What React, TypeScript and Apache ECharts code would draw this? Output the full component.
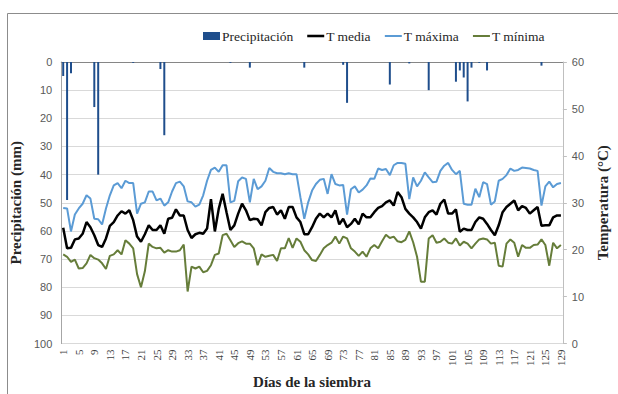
import React, { useEffect, useRef } from 'react';
import * as echarts from 'echarts';

const days: string[] = [];
for (let i = 1; i <= 129; i++) days.push(String(i));

const precipitation = [
  5, 49, 4, 0, 0, 0, 0, 0, 16, 40,
  0, 0, 0, 0, 0, 0, 0, 0, 0.3, 0,
  0, 0, 0, 0, 0, 2.5, 26, 0, 0, 0,
  0, 0, 0, 0, 0, 0, 0, 0, 0, 0,
  0, 0, 0, 0.3, 0, 0, 0, 0, 2, 0,
  0, 0, 0, 0, 0, 0, 0, 0, 0, 0,
  0, 0, 2, 0, 0, 0, 0, 0, 0, 0,
  0, 0, 1, 14.5, 0, 0, 0, 0, 0, 0,
  0, 0, 0, 0, 8, 0, 0, 0, 0, 0.5,
  0, 0, 0, 0, 10, 0, 0, 0, 0, 0,
  0, 7, 3, 5.5, 14, 2, 0, 0.3, 0, 3,
  0, 0, 0, 0, 0, 0, 0, 0, 0, 0,
  0, 0, 0, 1.3, 0, 0, 0, 0, 0,
];

const tMax = [
  28.9, 28.8, 23.9, 27.5, 28.8, 29.8, 31.6, 30.9, 26.6, 26.5,
  25.4, 28.8, 31.6, 33.7, 34.2, 33.1, 34.7, 34.2, 34.2, 27.7,
  29.8, 30.1, 32.4, 32.4, 30.5, 30.9, 29.4, 30.1, 32.4, 34.2,
  34.5, 33.5, 30.3, 30.1, 29.2, 29.6, 31.6, 34.7, 37.0, 37.5,
  36.6, 38.0, 38.0, 30.1, 30.4, 34.6, 35.4, 35.1, 30.1, 35.1,
  32.9, 33.5, 34.7, 37.4, 36.6, 36.3, 36.3, 36.1, 36.3, 36.1,
  36.1, 31.2, 26.6, 30.1, 32.6, 34.0, 34.9, 35.1, 31.9, 36.1,
  34.0, 33.7, 33.8, 27.5, 32.9, 33.5, 32.2, 32.8, 33.7, 35.2,
  35.1, 37.3, 37.0, 37.2, 35.9, 38.0, 38.5, 38.5, 38.3, 30.8,
  35.4, 33.5, 34.7, 36.5, 35.4, 34.4, 34.5, 36.8, 37.9, 38.5,
  37.0, 36.1, 36.8, 29.8, 29.6, 29.6, 33.0, 31.2, 34.4, 34.0,
  29.6, 30.3, 34.7, 35.1, 35.9, 37.3, 36.8, 37.0, 37.5, 37.4,
  37.3, 37.0, 36.8, 29.4, 33.5, 34.5, 33.3, 34.0, 34.2,
];

const tMedia = [
  24.7, 20.3, 20.4, 22.2, 22.4, 23.4, 25.9, 24.8, 23.1, 21.0,
  20.6, 22.4, 25.1, 25.9, 27.3, 28.2, 27.7, 28.4, 26.3, 22.8,
  21.7, 23.3, 25.2, 24.2, 24.2, 25.2, 23.4, 26.6, 26.8, 28.6,
  27.3, 27.3, 24.2, 22.5, 23.3, 23.6, 23.4, 24.5, 30.8, 23.9,
  28.7, 31.9, 28.0, 24.2, 25.2, 27.7, 29.8, 28.4, 26.3, 26.6,
  26.5, 25.2, 28.0, 28.9, 29.1, 27.5, 28.4, 26.6, 29.1, 29.1,
  26.9, 25.9, 23.3, 23.3, 24.8, 26.6, 27.7, 26.9, 27.7, 26.9,
  28.4, 25.4, 26.6, 24.8, 25.5, 26.6, 25.4, 27.7, 26.9, 26.9,
  28.0, 28.9, 29.3, 30.1, 30.5, 29.4, 32.3, 31.2, 28.7, 27.7,
  26.9, 25.9, 24.5, 26.9, 28.0, 28.4, 27.5, 29.8, 30.7, 27.7,
  27.7, 28.6, 23.8, 24.5, 24.2, 24.2, 25.9, 26.9, 26.6, 25.5,
  24.2, 23.1, 25.2, 28.0, 29.1, 29.8, 30.5, 28.4, 29.3, 28.9,
  27.7, 28.4, 29.1, 25.1, 25.2, 25.2, 26.9, 27.3, 27.3,
];

const tMin = [
  19.0, 18.5, 17.4, 17.9, 16.0, 16.1, 17.1, 18.9, 18.2, 17.9,
  17.1, 15.9, 18.7, 19.0, 19.9, 19.0, 22.0, 21.3, 20.3, 14.8,
  12.0, 15.4, 21.3, 20.6, 20.3, 20.4, 19.4, 19.9, 19.6, 19.6,
  19.9, 21.1, 11.1, 16.4, 16.0, 16.4, 15.2, 15.5, 16.7, 18.9,
  19.2, 23.1, 23.4, 22.0, 20.6, 21.4, 21.8, 21.3, 21.3, 20.3,
  16.7, 19.0, 18.5, 18.7, 18.9, 17.6, 20.3, 20.3, 22.5, 20.4,
  22.4, 21.7, 19.9, 19.0, 17.8, 17.6, 18.9, 20.3, 21.0, 21.5,
  22.8, 21.3, 22.8, 22.4, 20.3, 19.6, 18.7, 19.6, 18.5, 20.3,
  21.0, 20.3, 21.8, 23.2, 22.5, 22.8, 21.8, 21.6, 22.1, 23.9,
  21.6, 18.5, 13.2, 13.2, 22.4, 23.1, 21.5, 21.7, 22.4, 21.5,
  21.3, 22.4, 20.9, 21.7, 21.3, 20.3, 21.3, 22.2, 22.4, 22.2,
  21.3, 21.5, 16.6, 16.4, 21.3, 22.2, 21.5, 18.5, 21.0, 20.4,
  20.4, 21.0, 21.1, 22.2, 21.0, 16.6, 21.5, 20.3, 21.0,
];

const serif = 'Times New Roman, Liberation Serif, DejaVu Serif, serif';
const sans = 'Liberation Sans, Arial, sans-serif';

export default function App() {
  const ref = useRef<HTMLDivElement>(null);
  useEffect(() => {
    if (!ref.current) return;
    const chart = echarts.init(ref.current, undefined, { renderer: 'svg' });
    chart.setOption({
      animation: false,
      backgroundColor: '#ffffff',
      graphic: [
        {
          type: 'rect',
          shape: { x: 7.5, y: 13.5, width: 700, height: 500 },
          style: { fill: 'none', stroke: '#8c8c8c', lineWidth: 1 },
          silent: true,
          z: -10,
        },
      ],
      legend: {
        left: 198,
        top: 24,
        itemGap: 14,
        itemWidth: 17,
        itemHeight: 8,
        symbolKeepAspect: true,
        textStyle: { fontFamily: serif, fontSize: 13.5, color: '#262626', padding: [0, 0, 0, -3] },
        data: [
          { name: 'Precipitación', icon: 'rect' },
          { name: 'T media', icon: 'path://M0,0h20v3h-20z' },
          { name: 'T máxima', icon: 'path://M0,0h20v2.4h-20z' },
          { name: 'T mínima', icon: 'path://M0,0h20v2.4h-20z' },
        ],
      },
      grid: { left: 57, right: 49, top: 62, bottom: 48, containLabel: false },
      xAxis: {
        type: 'category',
        data: days,
        boundaryGap: true,
        axisLine: { lineStyle: { color: '#868686', width: 1 } },
        axisTick: { show: false },
        axisLabel: {
          interval: 3,
          rotate: 90,
          fontFamily: serif,
          fontSize: 11,
          color: '#404040',
          margin: 6,
        },
        name: 'Días de la siembra',
        nameLocation: 'middle',
        nameGap: 28,
        nameTextStyle: { fontFamily: serif, fontSize: 15, fontWeight: 'bold', color: '#262626' },
      },
      yAxis: [
        {
          type: 'value',
          inverse: true,
          min: 0,
          max: 100,
          interval: 10,
          position: 'left',
          axisLine: { show: true, lineStyle: { color: '#a6a6a6' } },
          axisTick: { show: false },
          axisLabel: { fontFamily: sans, fontSize: 11, color: '#595959', margin: 9 },
          splitLine: { show: true, lineStyle: { color: '#d9d9d9', width: 1 } },
          name: 'Precipitación (mm)',
          nameLocation: 'middle',
          nameGap: 29,
          nameRotate: 90,
          nameTextStyle: { fontFamily: serif, fontSize: 15, fontWeight: 'bold', color: '#262626' },
        },
        {
          type: 'value',
          min: 0,
          max: 60,
          interval: 10,
          position: 'right',
          axisLine: { show: true, lineStyle: { color: '#bfbfbf' } },
          axisTick: { show: true, length: 4, lineStyle: { color: '#bfbfbf' } },
          axisLabel: { fontFamily: sans, fontSize: 11, color: '#595959', margin: 9 },
          splitLine: { show: false },
          name: 'Temperatura (°C)',
          nameLocation: 'middle',
          nameGap: 25,
          nameRotate: 90,
          nameTextStyle: { fontFamily: serif, fontSize: 15, fontWeight: 'bold', color: '#262626' },
        },
      ],
      series: [
        {
          name: 'Precipitación',
          type: 'bar',
          yAxisIndex: 0,
          data: precipitation,
          barWidth: 2,
          itemStyle: { color: '#1f4e8c' },
        },
        {
          name: 'T media',
          type: 'line',
          yAxisIndex: 1,
          data: tMedia,
          symbol: 'none',
          lineStyle: { color: '#000000', width: 2.5 },
          itemStyle: { color: '#000000' },
        },
        {
          name: 'T máxima',
          type: 'line',
          yAxisIndex: 1,
          data: tMax,
          symbol: 'none',
          lineStyle: { color: '#5b9bd5', width: 2 },
          itemStyle: { color: '#5b9bd5' },
        },
        {
          name: 'T mínima',
          type: 'line',
          yAxisIndex: 1,
          data: tMin,
          symbol: 'none',
          lineStyle: { color: '#667d3a', width: 2 },
          itemStyle: { color: '#667d3a' },
        },
      ],
    });
    return () => chart.dispose();
  }, []);
  return <div ref={ref} style={{ width: 618, height: 394, position: 'fixed', left: 0, top: 0 }} />;
}
